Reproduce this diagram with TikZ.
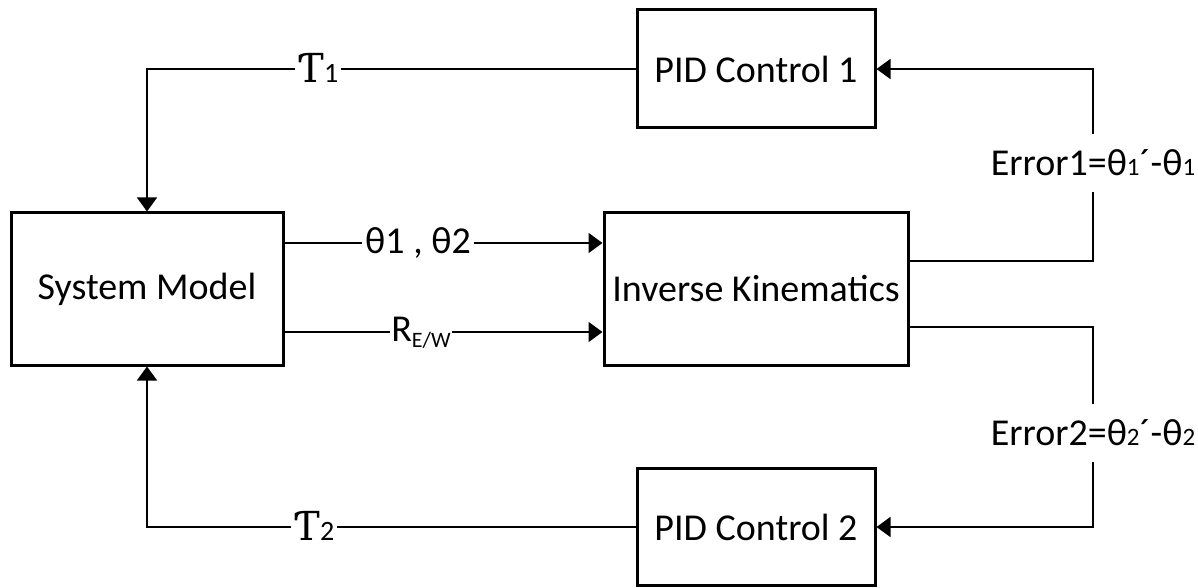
\documentclass[tikz,border=0pt]{standalone}
\usepackage{fontspec}
\setmainfont{Carlito}
\newfontfamily\taufont{DejaVu Serif}
\usetikzlibrary{arrows.meta}
\newcommand{\sm}[1]{{\fontsize{12.5}{12}\selectfont #1}}
\begin{document}
\begin{tikzpicture}[x=0.5pt,y=-0.5pt,
  blk/.style={draw,line width=1.5pt,minimum width=#1,inner sep=0pt},
  conn/.style={line width=0.75pt},
  arr/.style={conn,-{Triangle[length=7pt,width=10pt]}},
  lbl/.style={fill=white,inner sep=1.5pt,font=\fontsize{19}{20}\selectfont},
  vlbl/.style={fill=white,inner xsep=1pt,inner ysep=8pt,font=\fontsize{19}{20}\selectfont}]
\useasboundingbox (0,0) rectangle (1198,588);
\node[blk=136pt,minimum height=76pt,font=\fontsize{19}{20}\selectfont] (sys) at (147,289) {System Model};
\node[blk=152pt,minimum height=76pt,font=\fontsize{19}{20}\selectfont] (ik) at (756,289) {Inverse Kinematics};
\node[blk=119pt,minimum height=59pt,font=\fontsize{19}{20}\selectfont] (pid1) at (756,69) {PID Control 1};
\node[blk=119pt,minimum height=58.5pt,font=\fontsize{19}{20}\selectfont] (pid2) at (756,527) {PID Control 2};
\coordinate (r) at (1093,0);
% torque feedback
\draw[arr] (pid1.west) -| (sys.north);
\draw[arr] (pid2.west) -| (sys.south);
% forward signals
\draw[arr] (sys.east |- 0,243) -- (ik.west |- 0,243);
\draw[arr] (sys.east |- 0,332) -- (ik.west |- 0,332);
% error loops
\draw[arr] (ik.east |- 0,261) -| (r |- pid1.east) -- (pid1.east);
\draw[arr] (ik.east |- 0,327) -| (r |- pid2.east) -- (pid2.east);
% labels
\node[lbl] (t1) at (318,68) {{\taufont\fontsize{20}{22}\selectfont Ƭ}{\fontsize{14}{14}\selectfont 1}};
\node[lbl] (t2) at (314,526) {{\taufont\fontsize{20}{22}\selectfont Ƭ}{\fontsize{14}{14}\selectfont 2}};
\node[lbl] (th) at (418,243) {θ1 , θ2};
\node[lbl,inner sep=0.5pt] (rew) at (421,333) {R\raisebox{-3pt}{\fontsize{11}{11}\selectfont E/W}};
\node[vlbl] (e1) at (1093,163) {Error1=θ\sm{1}´-θ\sm{1}};
\node[vlbl] (e2) at (1093,433) {Error2=θ\sm{2}´-θ\sm{2}};
\end{tikzpicture}
\end{document}
